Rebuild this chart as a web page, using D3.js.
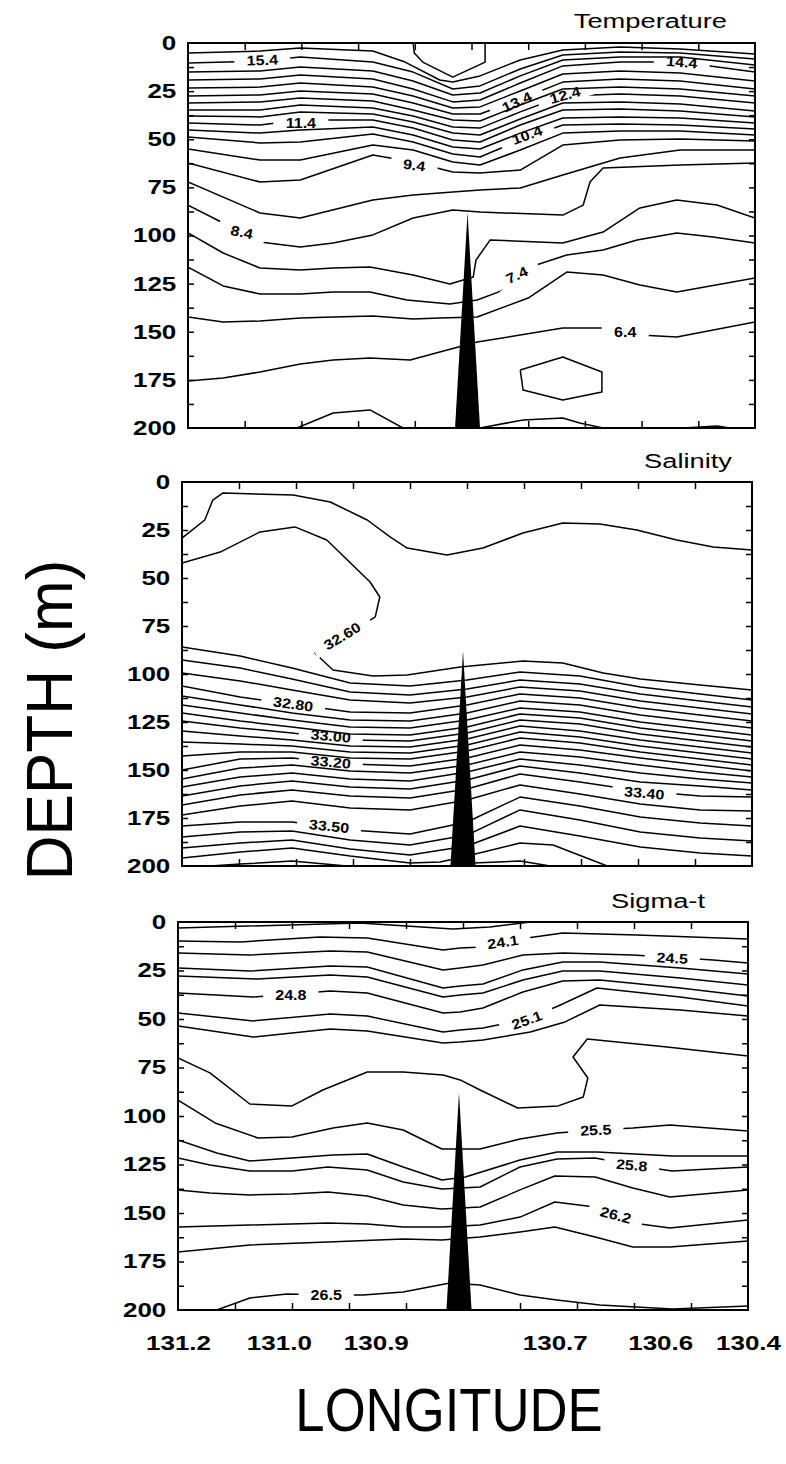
<!DOCTYPE html>
<html>
<head>
<meta charset="utf-8">
<script src="https://cdn.jsdelivr.net/npm/d3@7"></script>
<style>
  html, body { margin: 0; padding: 0; background: #fff; }
  svg { display: block; }
</style>
</head>
<body>
<svg id="chart" width="786" height="1464"></svg>
<script>
// Hydrographic section across the ridge: temperature, salinity and sigma-t.
// Along-section position runs 0 (west end) to 100 (east end); depth in metres.

const depthTicks = [0, 25, 50, 75, 100, 125, 150, 175, 200];
const depthMinorTicks = [12.5, 25, 37.5, 50, 62.5, 75, 87.5, 100, 112.5, 125, 137.5, 150, 162.5, 175, 187.5];
const sectionTicks = [10, 20, 30, 40, 50, 60, 70, 80, 90];
const lonLabels = ["131.2", "131.0", "130.9", "130.7", "130.6", "130.4"];
const lonLabelPos = [0, 17.7, 34.7, 66.1, 84.6, 100];

// bathymetry: the narrow ridge crossing the section
const ridge = [[47.1, 200], [49.3, 88], [51.5, 200]];

// ---------- Temperature (°C) ----------
const tempCols = [0, 12.7, 19.8, 32.6, 39.7, 46.7, 51.5, 58.6, 66.1, 76.2, 86.8, 100];
const tempUpper = [
  [15.4, [10.4, 9.4, 7.3, 9.9, 15.1, 23.9, 22.3, 13.5, 6.2, 4.7, 5.2, 8.3]],
  [14.9, [15.1, 14.5, 12.5, 14.5, 19.7, 27.0, 26.0, 17.1, 8.8, 7.3, 7.3, 11.4]],
  [14.4, [19.2, 18.7, 16.6, 18.7, 23.9, 30.6, 29.6, 20.8, 11.9, 9.9, 9.9, 15.1]],
  [13.9, [23.4, 22.9, 20.8, 22.9, 27.5, 33.8, 33.2, 24.9, 16.1, 14.5, 15.6, 19.7]],
  [13.4, [27.5, 27.0, 24.9, 26.5, 31.2, 36.9, 36.9, 29.1, 20.3, 18.7, 19.7, 23.9]],
  [12.9, [31.2, 30.6, 28.6, 30.1, 34.8, 40.0, 40.5, 32.2, 23.9, 22.9, 23.9, 27.5]],
  [12.4, [34.8, 34.8, 32.2, 33.8, 37.9, 43.6, 44.2, 35.8, 27.5, 26.5, 27.5, 31.2]],
  [11.9, [37.9, 38.4, 35.8, 36.9, 41.0, 46.8, 47.8, 39.5, 31.2, 30.6, 31.7, 35.3]],
  [11.4, [41.6, 42.6, 40.0, 40.0, 44.2, 50.4, 51.4, 42.6, 34.8, 34.3, 35.3, 38.4]],
  [10.9, [45.2, 46.8, 45.2, 43.6, 47.8, 54.0, 55.1, 46.8, 39.0, 38.4, 39.0, 41.6]],
  [10.4, [48.8, 51.9, 51.4, 47.3, 51.4, 57.7, 59.2, 50.4, 42.6, 42.1, 42.6, 44.7]],
  [9.9,  [55.1, 60.8, 60.8, 53.0, 55.6, 61.8, 63.4, 55.6, 46.8, 45.7, 45.7, 47.8]],
  [9.4,  [62.3, 72.2, 71.2, 58.2, 61.8, 67.0, 67.5, 66.0, 53.0, 50.4, 49.9, 50.9]],
  [8.9,  [72.2, 88.3, 90.9, 81.6, 79.0, 77.4, 76.4, 75.3, 68.6, 59.7, 55.6, 55.6]]
];
const tempOther = [
  [16.4, [[39.7, 0], [39.9, 5.2], [41.4, 9.9], [46.7, 17.7], [52.4, 9.9], [52.4, 0]]],
  [15.9, [[0, 5.2], [12.7, 4.2], [19.8, 2.6], [32.6, 4.2], [38.3, 9.9], [44.4, 19.2], [46.7, 20.3], [51.5, 17.1], [58.6, 8.8], [66.1, 3.6], [76.2, 2.1], [86.8, 3.1], [100, 5.7]]],
  [8.4, [[0, 84.2], [6.2, 93.5], [12.7, 103.4], [19.8, 106.0], [25.6, 103.9], [32.6, 99.7], [39.7, 90.9], [46.7, 86.8], [51.5, 87.8], [66.1, 89.4], [69.7, 84.2], [70.9, 72.2], [73.2, 64.9], [86.8, 63.4], [100, 62.3]]],
  [7.9, [[0, 98.7], [6.2, 109.1], [12.7, 116.9], [19.8, 117.9], [25.6, 116.9], [32.1, 116.4], [39.7, 120.5], [46.2, 125.2], [50.3, 121.6], [50.8, 112.7], [53.3, 102.3], [66.1, 103.9], [73.2, 98.2], [79.7, 85.7], [86.2, 81.6], [93.3, 84.2], [100, 90.9]]],
  [7.4, [[0, 116.4], [6.2, 126.2], [12.7, 130.4], [19.8, 130.4], [25.6, 129.4], [32.1, 129.4], [38.6, 133.5], [46.2, 135.6], [51.0, 133.5], [54.7, 129.4], [59.8, 116.9], [66.8, 110.1], [73.2, 107.5], [79.2, 102.3], [86.2, 98.7], [92.6, 100.8], [100, 103.9]]],
  [6.9, [[0, 142.3], [6.2, 144.9], [12.7, 144.4], [19.8, 142.9], [25.6, 142.3], [32.6, 141.8], [39.7, 143.4], [44.4, 142.9], [51.0, 142.3], [60.0, 132.5], [66.8, 119.0], [73.2, 120.5], [79.7, 125.7], [86.2, 129.4], [100, 122.1]]],
  [6.4, [[0, 175.6], [6.2, 174.0], [12.7, 170.9], [19.8, 166.8], [25.6, 164.7], [32.1, 163.6], [39.2, 164.7], [44.4, 160.5], [51.0, 155.3], [66.1, 148.1], [73.2, 148.1], [79.7, 151.7], [86.2, 152.7], [100, 144.9]]],
  [5.9, [[58.6, 169.9], [59.1, 180.3], [66.1, 185.5], [73.0, 181.3], [73.0, 170.9], [66.1, 163.1], [58.6, 169.9]]],
  [5.9, [[19.2, 200], [25.6, 192.2], [32.1, 190.6], [37.9, 200]]],
  [5.9, [[51.5, 200], [59.1, 195.8], [66.1, 194.8], [69.1, 197.4], [73.2, 200]]],
  [5.9, [[87.3, 200], [93.3, 199], [95.6, 200]]]
];
// [text, position, depth, angle]
const tempLabels = [
  ["15.4", 13.1, 8.8, -2], ["14.4", 87.1, 9.9, 5], ["13.4", 58.0, 30.6, -25],
  ["12.4", 66.5, 27.0, -15], ["11.4", 19.9, 41.6, 0], ["10.4", 59.8, 47.8, -20],
  ["9.4", 39.9, 63.4, 8], ["8.4", 9.5, 98.2, 12], ["7.4", 58.0, 120.5, -25],
  ["6.4", 77.1, 150.1, 0]
];

// ---------- Salinity (psu) ----------
const salCols = [0, 10.2, 19.3, 29.5, 40.0, 50.0, 59.3, 69.8, 80.4, 90.9, 100];
const salDense = [
  [32.65, [85.9, 90.6, 96.9, 104.7, 106.3, 103.1, 99.0, 101.0, 106.8, 110.4, 113.5]],
  [32.70, [92.7, 96.9, 102.6, 109.4, 110.9, 107.8, 103.1, 105.2, 110.4, 114.1, 117.2]],
  [32.75, [99.5, 103.6, 108.3, 113.5, 115.1, 112.0, 106.8, 108.9, 114.1, 117.7, 120.8]],
  [32.80, [106.3, 112.0, 115.6, 119.8, 120.3, 116.1, 110.4, 112.5, 117.7, 121.4, 124.5]],
  [32.85, [111.5, 116.1, 120.3, 124.0, 124.5, 120.3, 114.1, 116.1, 121.4, 125.0, 128.1]],
  [32.90, [116.1, 120.3, 124.0, 127.6, 128.1, 124.0, 117.7, 119.8, 125.0, 128.6, 131.8]],
  [32.95, [120.3, 124.5, 127.6, 131.3, 131.8, 127.6, 120.8, 122.9, 128.1, 131.8, 134.9]],
  [33.00, [124.5, 128.1, 130.7, 134.4, 134.9, 130.7, 124.0, 126.0, 131.3, 134.9, 138.0]],
  [33.05, [129.7, 132.3, 134.4, 137.5, 138.0, 133.9, 127.1, 129.7, 134.4, 138.0, 141.1]],
  [33.10, [135.4, 136.5, 137.5, 140.6, 141.1, 137.0, 130.2, 132.8, 137.5, 141.1, 144.3]],
  [33.15, [142.7, 140.6, 140.6, 143.8, 144.3, 140.1, 133.3, 135.9, 140.6, 144.3, 147.4]],
  [33.20, [150.0, 144.3, 143.8, 146.9, 147.9, 143.8, 137.0, 139.6, 143.8, 147.4, 150.5]],
  [33.25, [154.7, 149.0, 147.4, 150.5, 151.6, 147.4, 140.6, 143.2, 147.4, 151.0, 153.6]],
  [33.30, [158.9, 153.6, 151.6, 154.7, 155.7, 151.0, 144.3, 147.4, 151.6, 154.7, 156.8]],
  [33.35, [163.5, 158.3, 155.7, 158.9, 159.9, 155.2, 147.9, 151.6, 156.3, 158.3, 160.4]],
  [33.40, [168.2, 163.0, 160.4, 163.5, 164.6, 159.9, 152.1, 156.3, 160.9, 163.5, 164.1]],
  [33.45, [173.4, 168.8, 166.1, 169.8, 170.8, 165.6, 157.8, 162.5, 167.7, 170.8, 171.4]],
  [33.50, [179.2, 177.1, 177.1, 181.3, 183.3, 177.1, 164.1, 168.8, 174.5, 177.6, 179.2]],
  [33.55, [184.9, 182.3, 181.8, 186.5, 189.1, 183.9, 170.8, 176.0, 182.3, 185.4, 187.0]],
  [33.60, [190.6, 188.0, 186.5, 191.1, 194.3, 189.6, 179.2, 184.4, 190.1, 193.2, 194.8]]
];
const salOther = [
  [32.55, [[0, 29.2], [4.0, 19.8], [5.4, 9.4], [7.2, 5.7], [19.5, 6.8], [26.0, 10.4], [32.5, 19.8], [36.5, 28.6], [39.5, 34.4], [46.5, 38.0], [52.8, 34.4], [59.8, 26.6], [66.8, 21.4], [73.3, 21.9], [79.8, 25.0], [86.8, 30.2], [93.2, 33.9], [100, 35.4]]],
  [32.60, [[0, 42.2], [6.7, 36.5], [13.7, 26.0], [19.8, 23.4], [25.4, 30.2], [33.0, 52.1], [34.7, 59.9], [33.9, 70.3], [33.0, 71.9], [23.3, 89.1], [26.5, 97.9], [33.5, 101.0], [39.5, 100.5], [48.8, 96.4], [59.8, 93.2], [66.8, 94.3], [73.9, 99.5], [80.4, 102.6], [90.9, 105.7], [100, 108.3]]],
  [33.65, [[0, 195.8], [10.2, 192.7], [19.3, 190.6], [29.5, 194.8], [40.0, 198.4], [45.3, 197.9], [50.0, 194.8], [59.3, 188.0], [65.1, 189.1], [74.6, 200]]],
  [33.70, [[4.9, 200], [10.2, 199.0], [19.3, 197.4], [28.9, 200]]],
  [33.70, [[48.4, 200], [51.1, 198.4], [59.3, 197.4], [64.6, 200]]]
];
const salLabels = [
  ["32.60", 28.1, 80.2, -31], ["32.80", 19.5, 115.6, 8], ["33.00", 26.1, 132.3, 5],
  ["33.20", 26.1, 145.8, 5], ["33.40", 81.1, 162.0, 5], ["33.50", 25.8, 179.2, 6]
];

// ---------- Sigma-t (kg/m³ − 1000) ----------
const sigmaLines = [
  [24.0, [[0, 3.1], [31.9, 0.5], [48.2, 3.6], [54.7, 2.6], [61.8, 0]]],
  [24.1, [[0, 9.8], [10.9, 10.3], [24.9, 7.7], [33.2, 8.2], [46.5, 14.4], [49.5, 13.4], [53.5, 12.9], [60.0, 8.8], [67.5, 5.7], [80.5, 6.7], [100, 8.8]]],
  [24.5, [[0, 16.0], [12.6, 17.0], [26.7, 14.9], [33.2, 15.5], [46.5, 24.7], [49.5, 23.7], [53.5, 22.2], [60.5, 17.0], [67.5, 16.0], [79.8, 17.0], [93.9, 19.6], [100, 21.1]]],
  [24.6, [[0, 23.7], [12.6, 25.3], [26.7, 22.7], [33.2, 23.2], [46.5, 34.0], [49.5, 33.0], [53.5, 32.0], [60.5, 24.7], [67.5, 20.6], [74.0, 20.6], [88.1, 23.7], [100, 26.8]]],
  [24.7, [[0, 27.8], [13.9, 29.4], [26.7, 27.3], [33.2, 28.4], [46.5, 38.7], [49.5, 37.6], [53.5, 36.6], [60.5, 29.9], [67.5, 25.3], [74.0, 25.3], [88.1, 28.9], [100, 32.5]]],
  [24.8, [[0, 36.6], [13.2, 38.7], [26.7, 35.6], [33.2, 36.6], [46.5, 46.9], [49.5, 46.4], [53.5, 44.3], [60.5, 36.1], [67.5, 30.4], [74.0, 29.9], [88.1, 34.0], [100, 38.1]]],
  [25.1, [[0, 46.9], [13.2, 51.0], [26.7, 47.4], [33.2, 48.5], [46.5, 56.7], [49.5, 55.7], [53.5, 54.6], [61.2, 50.0], [66.7, 43.3], [73.5, 34.0], [88.1, 38.7], [100, 43.3]]],
  [25.2, [[0, 53.6], [13.2, 59.3], [26.7, 55.2], [33.2, 56.2], [46.5, 62.4], [49.5, 61.9], [53.5, 60.8], [61.8, 56.7], [67.9, 51.5], [74.0, 42.8], [88.1, 45.4], [100, 48.5]]],
  [25.3, [[0, 70.1], [5.6, 77.8], [12.6, 93.8], [20.0, 94.8], [25.4, 86.6], [33.2, 77.3], [39.5, 77.3], [46.5, 78.9], [49.5, 81.4], [53.0, 86.6], [59.6, 95.9], [66.7, 94.8], [71.1, 90.2], [71.9, 80.4], [69.3, 69.6], [71.8, 60.3], [85.8, 64.4], [100, 69.1]]],
  [25.5, [[0, 91.8], [6.5, 103.6], [14.0, 111.3], [20.0, 110.8], [27.2, 106.2], [33.2, 103.6], [39.5, 107.2], [46.3, 117.0], [53.0, 117.0], [60.0, 111.9], [66.5, 108.8], [73.3, 107.2], [79.8, 106.2], [86.3, 104.6], [100, 107.7]]],
  [25.7, [[0, 112.4], [6.8, 119.1], [12.6, 123.2], [20.0, 121.6], [27.2, 120.1], [33.2, 119.6], [39.5, 126.3], [46.3, 133.0], [50.4, 131.4], [60.0, 122.7], [66.5, 118.6], [73.5, 118.6], [86.8, 120.6], [100, 120.6]]],
  [25.8, [[0, 121.6], [5.6, 125.3], [12.6, 128.4], [20.0, 128.4], [26.3, 126.3], [33.2, 127.8], [39.5, 134.0], [46.3, 137.6], [53.0, 136.6], [60.0, 126.3], [66.5, 122.2], [73.2, 121.6], [79.6, 125.3], [86.7, 128.4], [100, 126.3]]],
  [26.0, [[0, 138.1], [5.6, 139.7], [12.6, 140.7], [20.0, 140.2], [26.3, 139.2], [33.2, 141.2], [39.5, 145.9], [46.3, 147.9], [53.0, 146.9], [60.0, 138.1], [66.1, 130.9], [73.2, 131.4], [79.8, 137.1], [86.3, 141.8], [100, 138.1]]],
  [26.2, [[0, 157.2], [12.6, 156.2], [26.3, 155.2], [33.2, 155.7], [39.5, 157.2], [46.3, 157.2], [53.0, 156.2], [60.0, 152.1], [66.1, 144.3], [73.2, 146.9], [76.8, 151.0], [79.8, 155.2], [86.3, 157.7], [100, 153.6]]],
  [26.3, [[0, 170.1], [12.6, 166.5], [26.3, 164.9], [39.5, 163.4], [46.3, 163.9], [53.0, 162.4], [60.0, 159.8], [66.1, 157.2], [73.2, 162.4], [79.8, 167.5], [86.3, 167.5], [100, 164.4]]],
  [26.5, [[6.8, 200], [12.6, 193.8], [19.1, 191.8], [26.0, 192.3], [32.5, 192.3], [39.5, 190.7], [47.7, 186.1], [53.0, 187.1], [60.0, 192.3], [66.5, 194.8], [74.0, 197.4], [86.8, 199.5], [100, 198.0]]]
];
const sigmaLabels = [
  ["24.1", 57.0, 10.3, -8], ["24.5", 86.7, 18.6, 3], ["24.8", 19.8, 37.6, 0],
  ["25.1", 61.2, 50.5, -20], ["25.5", 73.3, 107.2, -3], ["25.8", 79.6, 125.3, 5],
  ["26.2", 76.8, 151.0, 15], ["26.5", 26.0, 192.3, 0]
];

// assemble the isoline tables from the column tables above
const temperatureLines = tempUpper.map(([lv, ds]) => [lv, tempCols.map((c, i) => [c, ds[i]])]).concat(tempOther);
const salinityLines = salDense.map(([lv, ds]) => [lv, salCols.map((c, i) => [c, ds[i]])]).concat(salOther);

const panels = [
  { title: "Temperature", lines: temperatureLines, labels: tempLabels,
    left: 188, right: 755, top: 43, bottom: 428, titleX: 727, titleY: 28 },
  { title: "Salinity", lines: salinityLines, labels: salLabels,
    left: 182, right: 752, top: 482, bottom: 866, titleX: 732, titleY: 468 },
  { title: "Sigma-t", lines: sigmaLines, labels: sigmaLabels,
    left: 178, right: 748, top: 922, bottom: 1310, titleX: 705, titleY: 908, xLabels: true }
];

const FONT = "'Liberation Sans', Arial, Helvetica, sans-serif";
const svg = d3.select("#chart");
const defs = svg.append("defs");

panels.forEach((p, pi) => {
  const x = d3.scaleLinear().domain([0, 100]).range([p.left, p.right]);
  const y = d3.scaleLinear().domain([0, 200]).range([p.top, p.bottom]);
  const line = d3.line().x(d => x(d[0])).y(d => y(d[1]));
  const g = svg.append("g");

  const clipId = "plot-clip-" + pi;
  defs.append("clipPath").attr("id", clipId).append("rect")
    .attr("x", p.left).attr("y", p.top)
    .attr("width", p.right - p.left).attr("height", p.bottom - p.top);

  const lineG = g.append("g").attr("clip-path", `url(#${clipId})`);
  const labelG = g.append("g");

  // isoline labels (measured so the line can be broken around them)
  const labelInfo = p.labels.map(([txt, lx, ld, ang]) => {
    const t = labelG.append("text")
      .attr("transform", `translate(${x(lx)},${y(ld)}) rotate(${ang}) scale(1.15,1)`)
      .attr("text-anchor", "middle")
      .attr("dy", "0.36em")
      .style("font", `bold 14px ${FONT}`)
      .attr("fill", "#000")
      .text(txt);
    const w = t.node().getBBox().width * 1.15;
    return { level: +txt, cx: x(lx), cy: y(ld), ang, w };
  });

  p.lines.forEach(([lv, pts], li) => {
    const path = lineG.append("path")
      .attr("d", line(pts))
      .attr("fill", "none")
      .attr("stroke", "#000")
      .attr("stroke-width", 1.5)
      .attr("stroke-linejoin", "round");
    const mine = labelInfo.filter(l => Math.abs(l.level - lv) < 1e-6);
    if (mine.length) {
      const mid = `gap-${pi}-${li}`;
      const m = defs.append("mask").attr("id", mid)
        .attr("maskUnits", "userSpaceOnUse")
        .attr("x", 0).attr("y", 0).attr("width", 786).attr("height", 1464);
      m.append("rect").attr("x", 0).attr("y", 0).attr("width", 786).attr("height", 1464).attr("fill", "#fff");
      mine.forEach(l => {
        m.append("rect")
          .attr("x", -l.w / 2 - 12).attr("y", -7)
          .attr("width", l.w + 24).attr("height", 14)
          .attr("fill", "#000")
          .attr("transform", `translate(${l.cx},${l.cy}) rotate(${l.ang})`);
      });
      path.attr("mask", `url(#${mid})`);
    }
  });

  // ridge silhouette
  lineG.append("path").attr("d", line(ridge) + "Z").attr("fill", "#000");

  // frame
  g.append("rect")
    .attr("x", p.left).attr("y", p.top)
    .attr("width", p.right - p.left).attr("height", p.bottom - p.top)
    .attr("fill", "none").attr("stroke", "#000").attr("stroke-width", 2);

  // inward tick marks on all four sides
  const tickStyle = sel => {
    sel.select(".domain").remove();
    sel.selectAll(".tick line").attr("stroke", "#000").attr("stroke-width", 1.5);
  };
  g.append("g").attr("transform", `translate(${p.left},0)`)
    .call(d3.axisLeft(y).tickValues(depthMinorTicks).tickSize(-6).tickFormat("")).call(tickStyle);
  g.append("g").attr("transform", `translate(${p.right},0)`)
    .call(d3.axisRight(y).tickValues(depthMinorTicks).tickSize(-6).tickFormat("")).call(tickStyle);
  g.append("g").attr("transform", `translate(0,${p.top})`)
    .call(d3.axisTop(x).tickValues(sectionTicks).tickSize(-7).tickFormat("")).call(tickStyle);
  g.append("g").attr("transform", `translate(0,${p.bottom})`)
    .call(d3.axisBottom(x).tickValues(sectionTicks).tickSize(-7).tickFormat("")).call(tickStyle);

  // depth labels
  const yl = g.append("g").attr("transform", `translate(${p.left},0)`)
    .call(d3.axisLeft(y).tickValues(depthTicks).tickSize(0).tickPadding(9));
  yl.select(".domain").remove();
  yl.selectAll("text")
    .attr("transform", "scale(1.3,1)")
    .style("font", `bold 20px ${FONT}`)
    .attr("fill", "#000");

  // longitude labels under the last panel
  if (p.xLabels) {
    const xl = g.append("g").attr("transform", `translate(0,${p.bottom})`)
      .call(d3.axisBottom(x).tickValues(lonLabelPos).tickFormat((d, i) => lonLabels[i])
        .tickSize(0).tickPadding(26));
    xl.select(".domain").remove();
    xl.selectAll("text")
      .attr("transform", "scale(1.3,1)")
      .style("font", `bold 20px ${FONT}`)
      .attr("fill", "#000");
  }

  // panel title
  g.append("text")
    .attr("transform", `translate(${p.titleX},${p.titleY}) scale(1.3,1)`)
    .attr("text-anchor", "end")
    .style("font", `21px ${FONT}`)
    .attr("fill", "#000")
    .text(p.title);
});

// axis titles
svg.append("text")
  .attr("transform", "translate(72,720) rotate(-90) scale(0.97,1)")
  .attr("text-anchor", "middle")
  .style("font", `64px ${FONT}`)
  .attr("fill", "#000")
  .text("DEPTH (m)");

svg.append("text")
  .attr("transform", "translate(449,1431) scale(0.85,1)")
  .attr("text-anchor", "middle")
  .style("font", `62px ${FONT}`)
  .attr("fill", "#000")
  .text("LONGITUDE");
</script>
</body>
</html>
